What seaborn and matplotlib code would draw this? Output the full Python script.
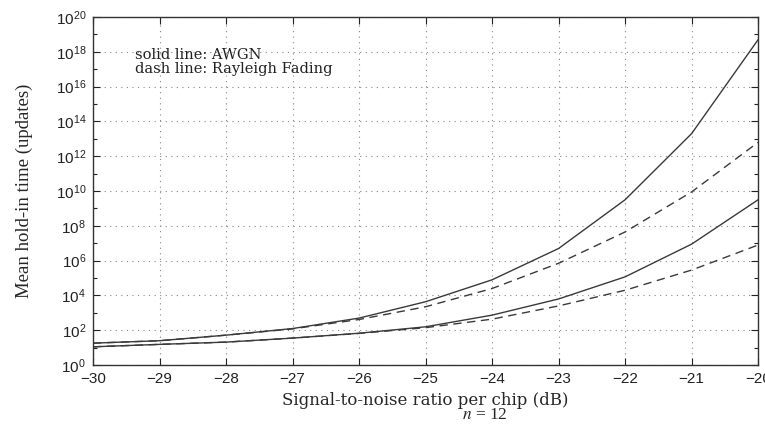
import numpy as np
import pandas as pd
import matplotlib
matplotlib.use("Agg")
import matplotlib.pyplot as plt
import matplotlib.ticker as mticker
import seaborn as sns

snr = [-30, -29, -28, -27, -26, -25, -24, -23, -22, -21, -20]

# log10 of mean hold-in time
awgn_upper = [1.26, 1.4, 1.72, 2.1, 2.7, 3.64, 4.9, 6.7, 9.5, 13.3, 18.7]
rayl_upper = [1.26, 1.4, 1.72, 2.08, 2.62, 3.35, 4.4, 5.85, 7.65, 9.95, 12.8]
awgn_lower = [1.05, 1.19, 1.32, 1.55, 1.83, 2.2, 2.87, 3.8, 5.07, 6.95, 9.5]
rayl_lower = [1.05, 1.19, 1.32, 1.55, 1.82, 2.15, 2.64, 3.4, 4.3, 5.46, 6.9]

curves = {
    ("AWGN", "upper"): awgn_upper,
    ("Rayleigh", "upper"): rayl_upper,
    ("AWGN", "lower"): awgn_lower,
    ("Rayleigh", "lower"): rayl_lower,
}
rows = []
for (chan, grp), vals in curves.items():
    for s, v in zip(snr, vals):
        rows.append({"snr": s, "time": 10.0 ** v, "channel": chan, "curve": chan + grp})
df = pd.DataFrame(rows)

sns.set_style("ticks")
plt.rcParams["font.family"] = ["Liberation Sans", "DejaVu Sans"]
plt.rcParams["mathtext.fontset"] = "stix"
plt.rcParams["xtick.direction"] = "in"
plt.rcParams["ytick.direction"] = "in"

fig = plt.figure(figsize=(7.65, 4.26), dpi=100)
ax = fig.add_axes([0.1216, 0.143, 0.8694, 0.817])

sns.lineplot(data=df, x="snr", y="time", style="channel", units="curve",
             estimator=None, color="#3a3a3a", lw=1.0,
             dashes={"AWGN": "", "Rayleigh": (6, 4)}, legend=False, ax=ax)

ax.set_yscale("log")
ax.set_xlim(-30, -20)
ax.set_ylim(1, 1e20)
ax.set_xticks(snr)
ax.set_xticklabels(["\u2212%d" % abs(s) for s in snr])
ax.yaxis.set_major_locator(mticker.FixedLocator([10.0 ** k for k in range(0, 21, 2)]))
ax.yaxis.set_minor_locator(mticker.FixedLocator([10.0 ** k for k in range(1, 20, 2)]))
ax.yaxis.set_major_formatter(mticker.FuncFormatter(lambda v, p: r"$\mathregular{10^{%d}}$" % round(np.log10(v))))
ax.yaxis.set_minor_formatter(mticker.NullFormatter())
ax.tick_params(which="both", top=True, right=True, labelsize=11, colors="#222222")
ax.tick_params(axis="x", pad=5)
ax.tick_params(axis="y", pad=5)
ax.tick_params(which="major", length=5, width=0.8)
ax.tick_params(which="minor", length=3, width=0.8)
ax.grid(True, which="major", linestyle=(0, (1, 4)), color="#888888", lw=0.8)
for sp in ax.spines.values():
    sp.set_color("#333333")
    sp.set_linewidth(1.0)

ax.set_ylabel("Mean hold-in time (updates)", family="Liberation Serif", fontsize=13.5, labelpad=16)
ax.set_xlabel("Signal-to-noise ratio per chip (dB)", family="DejaVu Serif", fontsize=12, labelpad=4)

ax.text(0.063, 0.91, "solid line: AWGN\ndash line: Rayleigh Fading",
        transform=ax.transAxes, family="DejaVu Serif", fontsize=10.5,
        va="top", ha="left", color="#222222", linespacing=0.95)
fig.text(0.634, 0.006, r"$\mathit{n}$ = 12", family="Liberation Serif", fontsize=12.5, ha="center", va="bottom")

fig.savefig("out.png", dpi=100)
